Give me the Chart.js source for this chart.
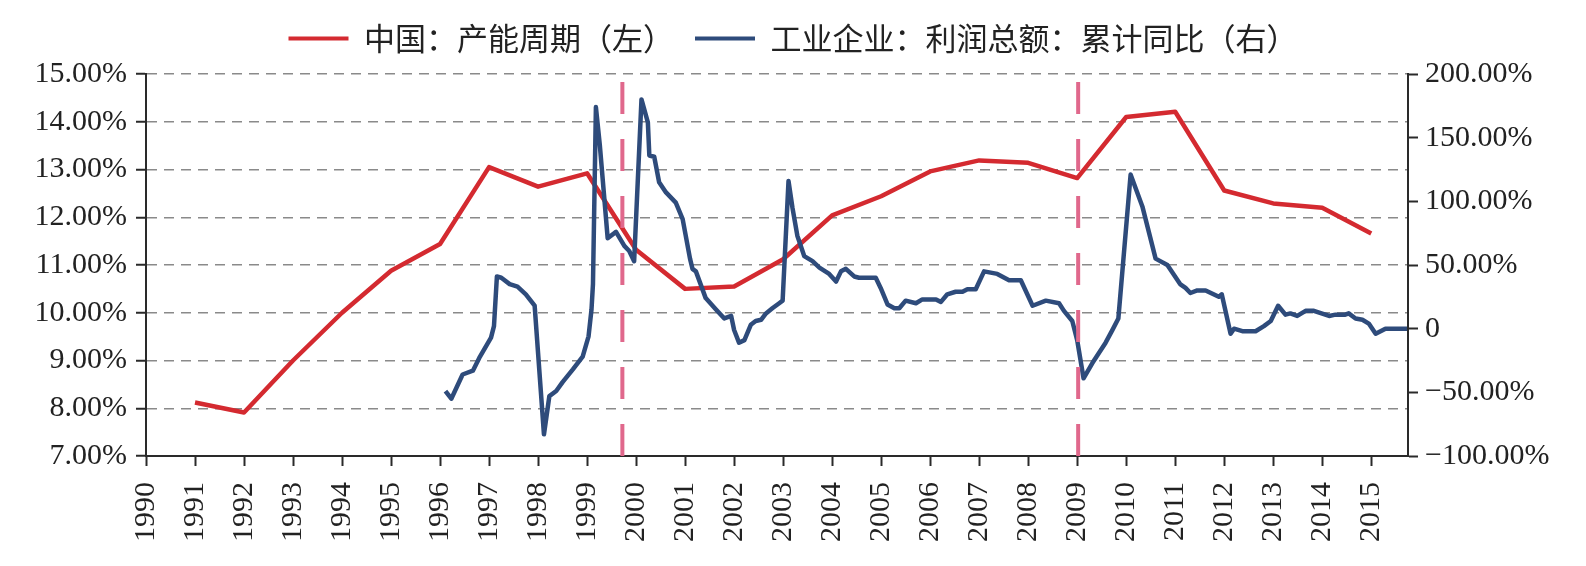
<!DOCTYPE html>
<html><head><meta charset="utf-8">
<script src="https://cdn.jsdelivr.net/npm/chart.js@4/dist/chart.umd.min.js"></script>
<style>html,body{margin:0;padding:0;background:#fff;} #wrap{width:1586px;height:566px;}</style>
</head><body>
<div id="wrap"><canvas id="c" width="1586" height="566"></canvas></div>
<script>
// ---- data ----
const seriesNames = ['中国：产能周期（左）', '工业企业：利润总额：累计同比（右）'];
const capacityYears = [1991,1992,1993,1994,1995,1996,1997,1998,1999,2000,2001,2002,2003,2004,2005,2006,2007,2008,2009,2010,2011,2012,2013,2014,2015];
const capacityValues = [8.12,7.91,9.00,10.00,10.88,11.44,13.05,12.64,12.92,11.32,10.50,10.55,11.12,12.04,12.44,12.96,13.19,13.14,12.82,14.10,14.21,12.56,12.29,12.20,11.66];
const profitDates = [1996.11,1996.23,1996.46,1996.67,1996.80,1997.04,1997.10,1997.16,1997.25,1997.42,1997.58,1997.75,1997.93,
  1998.12,1998.23,1998.37,1998.50,1998.71,1998.91,1999.03,1999.09,1999.12,1999.18,1999.26,1999.42,1999.59,1999.76,1999.86,1999.96,
  2000.11,2000.24,2000.27,2000.37,2000.47,2000.61,2000.81,2000.95,2001.10,2001.15,2001.22,2001.42,2001.63,2001.80,2001.94,
  2002.00,2002.10,2002.21,2002.34,2002.44,2002.55,2002.65,2002.78,2002.92,2002.99,2003.11,2003.19,2003.29,2003.43,2003.60,2003.74,2003.94,
  2004.08,2004.18,2004.28,2004.45,2004.55,2004.89,2004.99,2005.13,2005.27,2005.37,2005.50,2005.71,2005.84,2006.12,2006.22,2006.35,
  2006.52,2006.66,2006.76,2006.93,2007.10,2007.37,2007.61,2007.85,2008.09,2008.36,2008.63,2008.73,2008.90,2009.00,2009.13,2009.31,
  2009.58,2009.72,2009.84,2010.09,2010.33,2010.60,2010.84,2011.10,2011.21,2011.31,2011.45,2011.62,2011.89,2011.95,2012.13,2012.20,
  2012.37,2012.64,2012.81,2012.95,2013.10,2013.25,2013.35,2013.49,2013.66,2013.83,2014.14,2014.27,2014.47,2014.54,2014.68,2014.82,
  2014.95,2015.09,2015.29,2015.50,2015.73];
const profitValues = [-49,-55,-36,-33,-23,-7,2,41,40,35,33,27,18,
  -83,-53,-49,-42,-32,-22,-6,15,35,174,144,71,76,65,61,53,
  180,162,136,135,115,107,99,86,55,47,45,24,15,8,10,
  -1,-11,-9,3,6,7,12,16,20,22,116,95,73,57,53,48,43,
  37,45,47,41,40,40,32,19,16,16,22,20,23,23,21,27,
  29,29,31,31,45,43,38,38,18,22,20,14,6,-9,-39,-27,
  -11,-1,8,121,96,55,50,35,32,28,30,30,25,27,-4,0,
  -2,-2,2,6,18,11,12,10,14,14,10,11,11,12,8,7,
  4,-4,0,0,0];
const markerYears = [1999.72, 2009.02];
const yearLabels = ['1990','1991','1992','1993','1994','1995','1996','1997','1998','1999','2000','2001','2002','2003','2004','2005','2006','2007','2008','2009','2010','2011','2012','2013','2014','2015'];
const leftTickLabels = ['7.00%','8.00%','9.00%','10.00%','11.00%','12.00%','13.00%','14.00%','15.00%'];
const rightTickLabels = ['\u2212100.00%','\u221250.00%','0','50.00%','100.00%','150.00%','200.00%'];

// ---- build ----
const RED = '#d42a30', BLUE = '#2e4b7b', PINK = '#e0688c', AXIS = '#2a2a2a';
const tickFont = {family: '"Liberation Serif", "Times New Roman", serif', size: 30};
const datasets = [
  {label: seriesNames[0], data: capacityYears.map((x,i)=>({x, y: capacityValues[i]})), yAxisID: 'yL',
   borderColor: RED, backgroundColor: RED, borderWidth: 4.5, pointRadius: 0, tension: 0, order: 2, borderJoinStyle: 'round'},
  {label: seriesNames[1], data: profitDates.map((x,i)=>({x, y: profitValues[i]})), yAxisID: 'yR',
   borderColor: BLUE, backgroundColor: BLUE, borderWidth: 4.5, pointRadius: 0, tension: 0, order: 1, borderJoinStyle: 'round'}
];
markerYears.forEach(m => datasets.push({label: '', marker: true, data: [{x: m, y: 7}, {x: m, y: 15}], yAxisID: 'yL',
  borderColor: PINK, borderWidth: 4, borderDash: [32, 25], pointRadius: 0, order: 0}));

const legendSpacer = {
  id: 'legendSpacer',
  afterInit(chart) {
    const lg = chart.legend;
    if (lg && !lg._spaced) {
      const orig = lg.fit;
      lg.fit = function() { orig.call(this); this.height += 10; };
      lg._spaced = true;
    }
  }
};

new Chart(document.getElementById('c'), {
  type: 'line',
  data: {datasets},
  plugins: [legendSpacer],
  options: {
    responsive: false, animation: false, devicePixelRatio: 1,
    layout: {padding: {top: 2, left: 0, right: 0, bottom: 0}},
    plugins: {
      tooltip: {enabled: false},
      legend: {
        position: 'top',
        labels: {
          font: {family: '"Noto Sans CJK SC", sans-serif', size: 31}, color: '#222',
          boxWidth: 60, boxHeight: 4, padding: 21,
          filter: (item, data) => !data.datasets[item.datasetIndex].marker,
          sort: (a, b) => a.datasetIndex - b.datasetIndex,
          generateLabels: (chart) => Chart.defaults.plugins.legend.labels.generateLabels(chart)
            .map(l => Object.assign(l, {lineWidth: 0, fillStyle: l.strokeStyle}))
        }
      }
    },
    scales: {
      x: {
        type: 'linear', min: 1990, max: 2015.75,
        afterFit: (s) => { s.height = 110; },
        ticks: {stepSize: 1, includeBounds: false, autoSkip: false, maxRotation: 90, minRotation: 90,
          font: tickFont, color: '#222', padding: 16,
          callback: (v) => Number.isInteger(v) ? yearLabels[v - 1990] : ''},
        grid: {drawOnChartArea: false, drawTicks: true, tickLength: 10, tickColor: AXIS, tickWidth: 2},
        border: {display: true, color: AXIS, width: 2}
      },
      yL: {
        position: 'left', min: 7, max: 15,
        afterFit: (s) => { s.width = 146; },
        ticks: {stepSize: 1, font: tickFont, color: '#222', padding: 9,
          callback: (v) => leftTickLabels[Math.round(v - 7)]},
        grid: {color: '#8a8a8a', lineWidth: 1.5, tickLength: 10, tickColor: AXIS, tickWidth: 2},
        border: {display: true, color: AXIS, width: 2, dash: [10, 7]}
      },
      yR: {
        position: 'right', min: -100, max: 200,
        afterFit: (s) => { s.width = 178; },
        ticks: {stepSize: 50, font: tickFont, color: '#222', padding: 7,
          callback: (v) => rightTickLabels[Math.round((v + 100) / 50)]},
        grid: {drawOnChartArea: false, tickLength: 10, tickColor: AXIS, tickWidth: 2},
        border: {display: true, color: AXIS, width: 2}
      }
    }
  }
});
</script>
</body></html>
